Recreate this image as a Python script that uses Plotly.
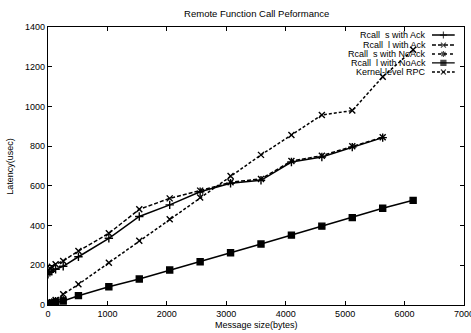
import plotly.graph_objects as go

sizes = [0, 32, 64, 128, 256, 512, 1024, 1536, 2048, 2560, 3072, 3584, 4096, 4608, 5120, 5632]
sizes_long = sizes + [6144]
sizes_short = [0, 32, 64, 128, 256]

rcall_s_ack = [155, 165, 170, 180, 195, 243, 336, 446, 504, 570, 613, 628, 720, 745, 795, 843]
rcall_l_ack = [175, 185, 193, 205, 222, 272, 361, 482, 537, 576, 618, 635, 725, 752, 800, 845]
rcall_s_noack = [8, 12, 16, 22, 28]
rcall_l_noack = [3, 5, 8, 12, 20, 47, 92, 131, 176, 218, 263, 307, 352, 397, 440, 487, 527]
kernel_rpc = [5, 8, 12, 25, 54, 104, 213, 324, 432, 541, 650, 756, 856, 957, 979, 1149, 1285]

names = ["Rcall  s with Ack", "Rcall  l with Ack", "Rcall  s with NoAck",
         "Rcall  l with NoAck", "Kernel-level RPC"]
x_max = 7000

FONT = "Liberation Sans, Arial, sans-serif"
fig = go.Figure()

styles = [
    ("solid", "cross-thin"),
    ("4px,2px", "x-thin"),
    ("dot", "asterisk-open"),
    ("solid", "square"),
    ("3px,2px", "x-thin"),
]
series = [
    (sizes, rcall_s_ack),
    (sizes, rcall_l_ack),
    (sizes_short, rcall_s_noack),
    (sizes_long, rcall_l_noack),
    (sizes_long, kernel_rpc),
]

for (x, y), name, (dash, symbol) in zip(series, names, styles):
    fig.add_trace(go.Scatter(
        x=x, y=y, name=name, mode="lines+markers", showlegend=False,
        line=dict(color="black", width=1.5, dash=dash),
        marker=dict(symbol=symbol, size=6, color="black",
                    line=dict(color="black", width=1.4)),
    ))

# compact gnuplot-style key: text right-aligned, sample to the right
key_rows = [0.971, 0.935, 0.903, 0.871, 0.838]
for i, (name, (dash, symbol)) in enumerate(zip(names, styles)):
    fig.add_trace(go.Scatter(
        x=[0, 0.5, 1], y=[key_rows[i]] * 3, mode="lines+markers",
        xaxis="x2", yaxis="y2", showlegend=False, hoverinfo="skip",
        line=dict(color="black", width=1.4, dash=dash),
        marker=dict(symbol=symbol, size=[0, 5, 0], color="black",
                    line=dict(color="black", width=1.2)),
    ))
    fig.add_annotation(text=name, xref="paper", yref="paper",
                       x=0.913, y=key_rows[i], xanchor="right", yanchor="middle",
                       showarrow=False, font=dict(family=FONT, size=9, color="black"))

# axis titles
fig.add_annotation(text="Message size(bytes)", xref="paper", yref="paper",
                   x=0.5, y=-0.072, xanchor="center", yanchor="middle",
                   showarrow=False, font=dict(family=FONT, size=9, color="black"))
fig.add_annotation(text="Latency(usec)", xref="paper", yref="paper",
                   x=-0.092, y=0.5, xanchor="center", yanchor="middle", textangle=-90,
                   showarrow=False, font=dict(family=FONT, size=9, color="black"))
# last x tick label, partly cut by the right edge as in the reference
fig.add_annotation(text=str(x_max), xref="x", yref="paper", x=x_max, y=0,
                   xanchor="center", yanchor="top", yshift=-2, showarrow=False,
                   font=dict(family=FONT, size=9, color="black"))

axis_common = dict(
    showgrid=False, zeroline=False, showline=True, linecolor="black",
    linewidth=1.3, mirror="allticks", ticks="inside", ticklen=4,
    tickcolor="black", tickfont=dict(family=FONT, size=9, color="black"),
)

fig.update_layout(
    width=471, height=333,
    margin=dict(l=48, r=7, t=27, b=28),
    paper_bgcolor="white", plot_bgcolor="white",
    font=dict(family=FONT, size=9, color="black"),
    title=dict(text="Remote Function Call Peformance", x=0.545, xanchor="center",
               y=0.958, yanchor="middle", font=dict(family=FONT, size=9.5)),
    xaxis=dict(range=[0, x_max], dtick=1000, tick0=0, automargin=False, **axis_common),
    yaxis=dict(range=[0, 1400], dtick=200, tick0=0, automargin=False, **axis_common),
    xaxis2=dict(domain=[0.923, 0.978], range=[0, 1], visible=False,
                anchor="y2", fixedrange=True),
    yaxis2=dict(domain=[0, 1], range=[0, 1], visible=False,
                anchor="x2", overlaying="y", fixedrange=True),
    showlegend=False,
)

fig.write_html("out.html", config={"displayModeBar": False},
               post_script="document.body.style.margin='0';document.body.style.padding='0';")
